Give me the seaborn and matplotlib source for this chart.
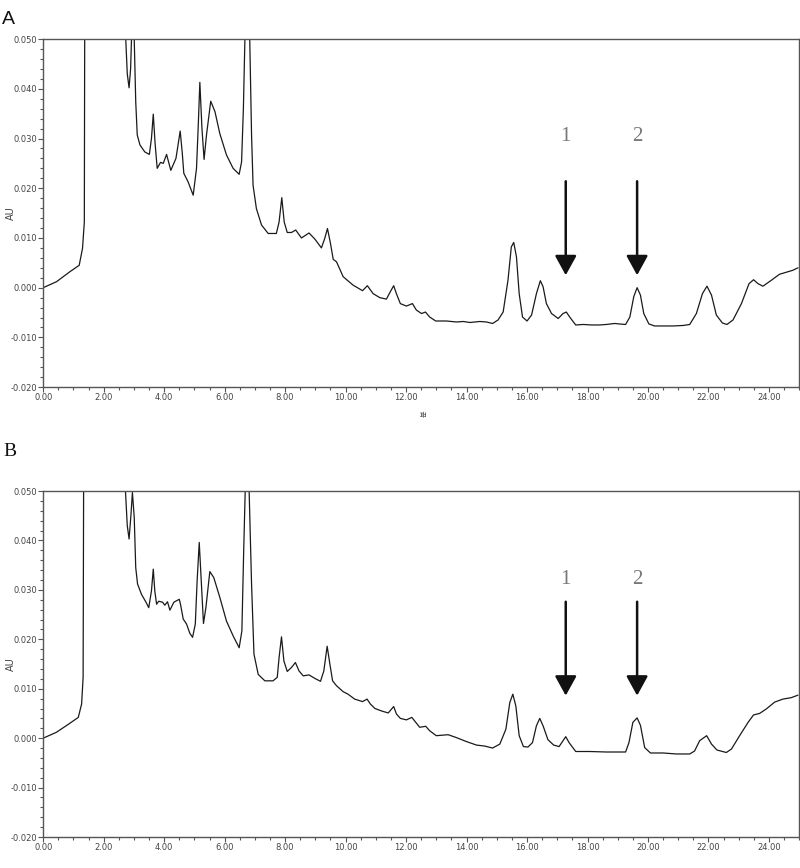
"""
Two HPLC chromatograms (A, B) with marked peaks 1 and 2.
"""

import matplotlib
matplotlib.use("Agg")
import matplotlib.pyplot as plt
from matplotlib.ticker import MultipleLocator, FormatStrFormatter
import seaborn as sns

# ----------------------------------------------
# Data
# ----------------------------------------------
time_a = [
    0.00, 0.44, 0.88, 1.19, 1.30, 1.36, 1.42, 2.00, 2.66, 2.73, 2.78, 2.84,
    2.89, 2.92, 2.96, 3.01, 3.06, 3.11, 3.20, 3.36, 3.51, 3.58, 3.64, 3.70,
    3.77, 3.88, 3.97, 4.08, 4.22, 4.39, 4.53, 4.60, 4.65, 4.79, 4.96, 5.07,
    5.13, 5.18, 5.25, 5.32, 5.40, 5.54, 5.68, 5.84, 6.06, 6.28, 6.48, 6.56,
    6.62, 6.67, 6.75, 6.83, 6.89, 6.94, 7.05, 7.22, 7.44, 7.71, 7.80, 7.89,
    7.97, 8.07, 8.21, 8.35, 8.54, 8.79, 8.98, 9.20, 9.31, 9.40, 9.50, 9.59,
    9.70, 9.92, 10.25, 10.56, 10.72, 10.91, 11.13, 11.35, 11.48, 11.59, 11.68,
    11.81, 12.01, 12.21, 12.34, 12.51, 12.64, 12.78, 12.98, 13.33, 13.67,
    13.89, 14.11, 14.44, 14.66, 14.86, 15.04, 15.21, 15.37, 15.48, 15.56,
    15.65, 15.74, 15.85, 16.00, 16.15, 16.31, 16.44, 16.53, 16.64, 16.81,
    17.03, 17.19, 17.30, 17.41, 17.61, 17.86, 18.13, 18.40, 18.62, 18.90,
    19.06, 19.26, 19.40, 19.53, 19.64, 19.75, 19.86, 20.03, 20.22, 20.50,
    20.83, 21.16, 21.38, 21.60, 21.80, 21.95, 22.10, 22.26, 22.46, 22.61,
    22.81, 23.09, 23.34, 23.49, 23.64, 23.80, 24.08, 24.35, 24.57, 24.79,
    24.96,
]
au_a = [
    0.0000, 0.0012, 0.0032, 0.0045, 0.0079, 0.0132, 0.2000, 0.6000, 0.1500,
    0.0500, 0.0430, 0.0402, 0.0440, 0.0500, 0.0700, 0.0500, 0.0374, 0.0307,
    0.0287, 0.0273, 0.0268, 0.0300, 0.0349, 0.0290, 0.0240, 0.0252, 0.0250,
    0.0268, 0.0236, 0.0260, 0.0315, 0.0270, 0.0230, 0.0213, 0.0186, 0.0240,
    0.0330, 0.0413, 0.0320, 0.0258, 0.0307, 0.0375, 0.0354, 0.0310, 0.0267,
    0.0240, 0.0228, 0.0253, 0.0360, 0.0500, 0.1500, 0.0500, 0.0307, 0.0206,
    0.0159, 0.0126, 0.0109, 0.0109, 0.0132, 0.0181, 0.0132, 0.0111, 0.0111,
    0.0116, 0.0100, 0.0110, 0.0098, 0.0080, 0.0099, 0.0119, 0.0089, 0.0057,
    0.0052, 0.0022, 0.0005, -0.0006, 0.0004, -0.0012, -0.0020, -0.0023,
    -0.0008, 0.0004, -0.0012, -0.0032, -0.0037, -0.0032, -0.0045, -0.0052,
    -0.0049, -0.0059, -0.0067, -0.0067, -0.0069, -0.0068, -0.0070, -0.0068,
    -0.0069, -0.0072, -0.0065, -0.0049, 0.0015, 0.0082, 0.0091, 0.0062,
    -0.0012, -0.0059, -0.0067, -0.0055, -0.0012, 0.0014, 0.0002, -0.0032,
    -0.0052, -0.0062, -0.0052, -0.0049, -0.0059, -0.0075, -0.0074, -0.0075,
    -0.0075, -0.0074, -0.0072, -0.0073, -0.0074, -0.0059, -0.0018, 0.0000,
    -0.0015, -0.0052, -0.0073, -0.0077, -0.0077, -0.0077, -0.0076, -0.0074,
    -0.0052, -0.0012, 0.0003, -0.0015, -0.0055, -0.0071, -0.0074, -0.0065,
    -0.0032, 0.0008, 0.0016, 0.0008, 0.0003, 0.0015, 0.0027, 0.0031, 0.0035,
    0.0040,
]

time_b = [
    0.00, 0.44, 0.83, 1.16, 1.27, 1.32, 1.40, 2.00, 2.66, 2.72, 2.78, 2.84,
    2.90, 2.95, 3.01, 3.06, 3.12, 3.25, 3.40, 3.49, 3.58, 3.64, 3.69, 3.75,
    3.82, 3.95, 4.02, 4.11, 4.19, 4.32, 4.50, 4.54, 4.63, 4.74, 4.85, 4.94,
    5.03, 5.09, 5.16, 5.22, 5.30, 5.38, 5.51, 5.64, 5.84, 6.06, 6.28, 6.48,
    6.57, 6.63, 6.68, 6.75, 6.81, 6.89, 6.97, 7.11, 7.33, 7.60, 7.74, 7.80,
    7.88, 7.96, 8.07, 8.21, 8.34, 8.46, 8.60, 8.79, 8.98, 9.17, 9.28, 9.39,
    9.48, 9.57, 9.70, 9.92, 10.08, 10.30, 10.56, 10.71, 10.82, 10.97, 11.19,
    11.41, 11.59, 11.68, 11.81, 12.01, 12.19, 12.32, 12.45, 12.65, 12.78,
    13.00, 13.39, 13.67, 14.00, 14.33, 14.60, 14.86, 15.10, 15.30, 15.43,
    15.53, 15.63, 15.74, 15.88, 16.03, 16.18, 16.31, 16.42, 16.53, 16.69,
    16.88, 17.06, 17.19, 17.28, 17.39, 17.61, 18.07, 18.62, 19.06, 19.26,
    19.37, 19.50, 19.64, 19.75, 19.89, 20.08, 20.50, 20.94, 21.38, 21.54,
    21.71, 21.94, 22.10, 22.28, 22.59, 22.76, 23.03, 23.31, 23.49, 23.69,
    23.91, 24.19, 24.46, 24.74, 24.96,
]
au_b = [
    0.0000, 0.0012, 0.0028, 0.0042, 0.0069, 0.0123, 0.2000, 0.6000, 0.1500,
    0.0500, 0.0430, 0.0403, 0.0450, 0.0497, 0.0447, 0.0345, 0.0312, 0.0291,
    0.0275, 0.0264, 0.0298, 0.0342, 0.0298, 0.0271, 0.0277, 0.0275, 0.0269,
    0.0276, 0.0259, 0.0275, 0.0281, 0.0271, 0.0241, 0.0231, 0.0212, 0.0204,
    0.0231, 0.0318, 0.0396, 0.0325, 0.0232, 0.0264, 0.0337, 0.0325, 0.0285,
    0.0237, 0.0207, 0.0183, 0.0217, 0.0379, 0.0500, 0.1500, 0.0500, 0.0312,
    0.0170, 0.0129, 0.0116, 0.0116, 0.0123, 0.0163, 0.0205, 0.0156, 0.0135,
    0.0143, 0.0153, 0.0136, 0.0126, 0.0128, 0.0121, 0.0115, 0.0136, 0.0186,
    0.0150, 0.0116, 0.0106, 0.0094, 0.0089, 0.0079, 0.0074, 0.0079, 0.0069,
    0.0060, 0.0055, 0.0051, 0.0064, 0.0049, 0.0040, 0.0037, 0.0042, 0.0032,
    0.0022, 0.0024, 0.0015, 0.0005, 0.0007, 0.0001, -0.0007, -0.0014,
    -0.0016, -0.0020, -0.0012, 0.0018, 0.0072, 0.0089, 0.0065, 0.0005,
    -0.0017, -0.0018, -0.0009, 0.0025, 0.0040, 0.0025, -0.0003, -0.0014,
    -0.0017, -0.0005, 0.0003, -0.0009, -0.0027, -0.0027, -0.0028, -0.0028,
    -0.0028, -0.0009, 0.0032, 0.0041, 0.0026, -0.0019, -0.0030, -0.0030,
    -0.0032, -0.0032, -0.0026, -0.0005, 0.0005, -0.0012, -0.0024, -0.0029,
    -0.0022, 0.0005, 0.0032, 0.0047, 0.0050, 0.0059, 0.0073, 0.0079, 0.0082,
    0.0087,
]

peak_labels = ["1", "2"]
peak_rt = [17.28, 19.64]
# arrow tail / tip / label heights for each panel (AU)
arrow_tail = [0.0214, 0.0276]
arrow_tip = [0.0025, 0.0086]
label_y = [0.0305, 0.0320]

# ----------------------------------------------
# Style
# ----------------------------------------------
sns.set_theme(style="white")
plt.rcParams["font.family"] = ["Liberation Sans Narrow", "DejaVu Sans"]

AXIS_COL = "#555555"
TEXT_COL = "#444444"

fig = plt.figure(figsize=(8.0, 8.68), dpi=100)
ax_a = fig.add_axes([0.054, 0.554, 0.945, 0.401])
ax_b = fig.add_axes([0.054, 0.0357, 0.945, 0.3986])

traces = [(time_a, au_a), (time_b, au_b)]

for i, (ax, (tt, yy)) in enumerate(zip([ax_a, ax_b], traces)):
    sns.lineplot(x=tt, y=yy, ax=ax, color="#1a1a1a", lw=0.9,
                 estimator=None, sort=False)

    ax.set_xlim(0, 25)
    ax.set_ylim(-0.020, 0.050)
    ax.xaxis.set_major_locator(MultipleLocator(2))
    ax.xaxis.set_minor_locator(MultipleLocator(0.5))
    ax.yaxis.set_major_locator(MultipleLocator(0.01))
    ax.yaxis.set_minor_locator(MultipleLocator(0.002))
    ax.xaxis.set_major_formatter(FormatStrFormatter("%.2f"))
    ax.yaxis.set_major_formatter(FormatStrFormatter("%.3f"))

    ax.tick_params(which="major", direction="out", length=3.5, width=0.8,
                   color=AXIS_COL, labelsize=6, labelcolor=TEXT_COL, pad=1,
                   bottom=True, left=True)
    ax.tick_params(which="minor", direction="out", length=2, width=0.8,
                   color=AXIS_COL, bottom=True, left=True)

    for sp in ax.spines.values():
        sp.set_color(AXIS_COL)
        sp.set_linewidth(1.0)

    ax.set_ylabel("AU", fontsize=7, color=TEXT_COL)
    ax.yaxis.set_label_coords(-0.036, 0.5)
    ax.set_xlabel("")

    # peak arrows and labels
    for lab, rt in zip(peak_labels, peak_rt):
        ax.annotate("", xy=(rt, arrow_tip[i]), xytext=(rt, arrow_tail[i]),
                    arrowprops=dict(arrowstyle="-|>,head_length=0.6,head_width=0.33",
                                    color="#111111", lw=1.8, mutation_scale=20,
                                    shrinkA=0, shrinkB=0))
        ax.text(rt, label_y[i], lab, ha="center", va="center", fontsize=15,
                color="#777777", family=["Liberation Serif", "DejaVu Serif"])

# x label (rotated Korean "minutes") under panel A only
ax_a.text(12.6, -0.0254, "분", rotation=90, ha="center", va="center",
          fontsize=5, color=TEXT_COL,
          family=["Noto Sans CJK KR", "DejaVu Sans"])

fig.text(0.002, 0.978, "A", fontsize=14, color="#111111", ha="left", va="center",
         family=["Liberation Sans", "DejaVu Sans"])
fig.text(0.004, 0.480, "B", fontsize=14, color="#111111", ha="left", va="center",
         family=["Liberation Serif", "DejaVu Serif"])

fig.savefig("out.png", dpi=100)
plt.close(fig)
